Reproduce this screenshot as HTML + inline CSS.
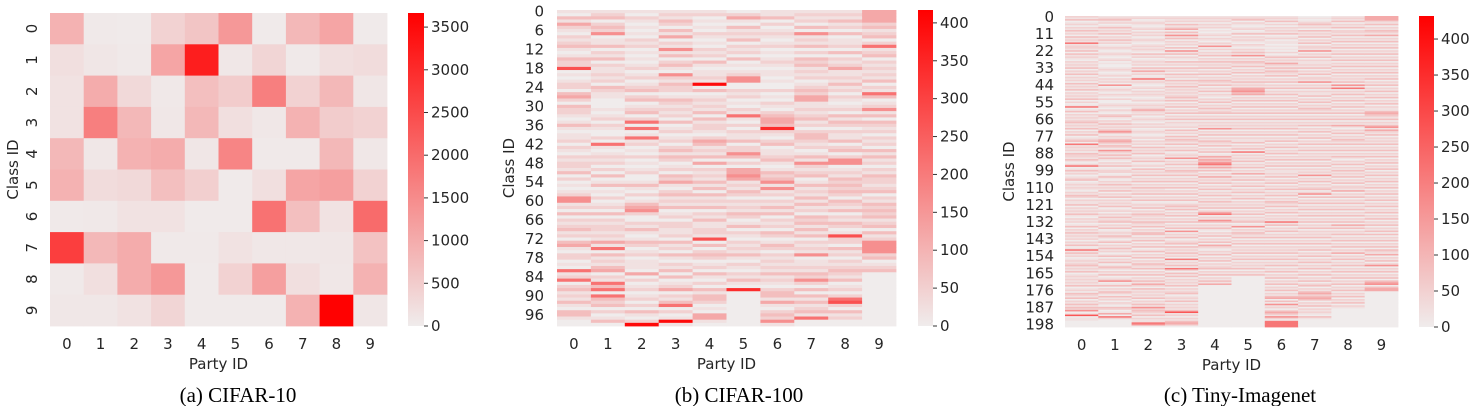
<!DOCTYPE html>
<html><head><meta charset="utf-8"><style>
body{margin:0;background:#fff;width:1482px;height:406px;overflow:hidden}
svg text{font-family:"DejaVu Sans","Liberation Sans",sans-serif;fill:#262626}
.cap{font-family:"Liberation Serif",serif;font-size:21px;fill:#000}
</style></head><body>
<svg id="s" width="1482" height="406" xmlns="http://www.w3.org/2000/svg"></svg>
<script>
// CIFAR-10 counts [class][party]
const cifar10Rows=[
[900,50,30,400,600,1300,30,800,1100,30],
[200,100,50,1100,3200,80,350,50,200,250],
[150,1000,300,60,700,500,1700,400,800,100],
[150,1700,800,80,800,200,80,900,500,400],
[800,80,900,1000,100,1600,50,50,800,80],
[900,250,300,700,450,30,200,1100,1200,400],
[50,60,150,150,30,30,1900,700,150,2000],
[2700,800,1000,50,50,150,80,80,100,650],
[50,200,1000,1300,30,400,1200,200,80,900],
[80,80,150,350,30,30,30,900,3650,100]];
const cifar10Ticks=[0,500,1000,1500,2000,2500,3000,3500];
// sample count for each level digit
const levelValues=[0,20,48,82,120,165,215,275,340,400];
// CIFAR-100 per-party levels, one digit per class
const cifar100Levels=[
"1031421021 2310132270 1012203420 3221013101 1202102122 1302010125 5120302123 1203410220 1061260231 2131033100",
"1230232501 1302130211 2120321100 0101202100 2061012120 2030130102 0120302122 1214160312 1340216360 6323020130",
"1021010102 1201010120 1201230230 1230260601 6120102010 1200131020 1345200213 1013201201 1104020120 1202031029",
"1213203140 2151302310 5213220132 1212030120 1202313201 2032410231 2130120221 1203120310 2130301240 2136020191",
"1201010210 1021203101 1219030121 2130312210 2431213040 2121313031 2130213112 2170302320 1203102031 3320104410",
"0241031213 0212030101 2550021201 0216102021 1302253020 4454121320 2121320130 2102121310 2102131080 0000000000",
"1130201210 1201012101 1010020102 1023443821 0230112310 1323515120 2131302120 3201320212 1213121023 3141023251",
"1212030512 1302032312 1201232441 1212312023 3212013152 1230131213 1312032313 1302121501 1213252030 3131231600",
"1213120301 1203021241 1213120210 1203132021 1302302550 1213232320 3213021320 1722031202 1232130120 2672031200",
"4444231230 2612302121 2130216301 2513032120 2120313120 2132212302 1323231230 3125555230 1230000000 0000000000"];
const cifar100Ticks=[0,50,100,150,200,250,300,350,400];
// Tiny-Imagenet per-party levels
const tinyLevels=[
"2130120213 1203121612 2130312102 1213021302 1203121302 1213020160 1302121231 2130213012 3061212032 2131026013 1201230121 2102132021 1302121310 2120130213 1212021301 6131201212 3121301212 1213012032 1302131325 0170110000",
"1231201312 1302131201 2101210120 1001210120 2120501210 2102001210 2102310213 1213520213 4313205213 1310213012 2013102131 2130213021 2130120213 1230213012 1320130213 1201302130 1320213012 5013021320 3120210320 1406200000",
"1201210120 2120121012 1210312012 1203141201 6121012021 2101201212 4212012102 1201210120 2120312130 1213012031 2130213021 3121302130 1213021321 2132130213 3021302130 1302130213 2130213021 3142031212 1302131523 2130211650",
"1212031240 3151302120 3051302103 1203120312 0312131212 1231302130 2130213021 1203120313 2130213012 1502130213 2130213021 3021302130 1231302130 2130213050 2130123031 2131206021 3062031302 1213021230 1213021213 7120213430",
"1212021201 0120210215 0202130213 1213021302 1321302130 2102130213 1230213021 2150213021 3213021301 4243562413 0214121302 1302130213 1213024602 1530213102 1302130421 0213021302 1230213021 3140000000 0000000000 0000000000",
"1230210120 1302121021 0213150213 2130213021 2131214453 4021302130 2130213021 2130213021 1302130602 1213021302 1402130213 0213021302 1213021302 1230150213 2130213021 2130213021 2130213000 0000000000 0000000000 0000000000",
"1213020212 1301201101 0102013121 4213132130 2130213021 3021302130 2130213021 2130213021 3021302130 2130213021 1213021302 1302130213 2130213021 2161302130 2130213021 2130213021 3021302130 2130213021 3403051202 4315206666",
"0101231203 1213021302 2150213021 1213021302 2150213021 1302130213 2130213021 3021302130 2130213021 2130213021 2150213021 2302503021 3021302130 2130213021 2130213021 3021302130 2130213021 3023021342 3430213021 2103100000",
"1213021302 2130213021 3021302130 2130213021 2130516021 3021302130 2130213021 4102130213 2130213021 3102130213 1213021302 2140213021 3021302130 2130413021 3021302130 2140213021 3021302130 2130213021 3021302100 0000000000",
"4442130213 2140213021 3021302130 2130213021 3021302130 2130213021 1343213021 3514213021 2130213021 3021302130 2130213021 3021302130 2130213021 3021302130 3021302130 3214021302 5021302130 3450344000 0000000000 0000000000"];
const tinyTicks=[0,50,100,150,200,250,300,350,400];
const partyLabels=[0,1,2,3,4,5,6,7,8,9];

const NS="http://www.w3.org/2000/svg";
const svg=document.getElementById('s');
function mk(tag,attrs,parent){const e=document.createElementNS(NS,tag);for(const k in attrs)e.setAttribute(k,attrs[k]);(parent||svg).appendChild(e);return e;}
function color(t){t=Math.max(0,Math.min(1,t));const r=Math.round(240+15*t),g=Math.round(236*(1-t)),b=Math.round(236*(1-t));return `rgb(${r},${g},${b})`;}
function parseLevels(arr){return arr.map(s=>s.replace(/ /g,'').split('').map(d=>levelValues[+d]));}

function heatmap(o){
  const g=mk('g',{});
  
  
  const nR=o.rows, nC=10;
  const cw=(o.x1-o.x0)/nC, rh=(o.y1-o.y0)/nR;
  const yS=v=>o.y0+v*rh, xS=v=>o.x0+v*cw, cS=v=>o.cy1-(v/o.vmax)*(o.cy1-o.cy0);
  for(let c=0;c<nC;c++)for(let r=0;r<nR;r++){
    const v=o.val(r,c);
    const cell=mk('rect',{x:xS(c),y:yS(r),width:cw+0.4,height:rh+0.4,fill:color(v/o.vmax)},g);
    
    
  }
  partyLabels.forEach((l,i)=>{const t=mk('text',{x:xS(i+0.5),y:o.y1+23,'text-anchor':'middle','font-size':15},g);t.textContent=l;
    });
  const xl=mk('text',{x:(o.x0+o.x1)/2,y:o.y1+43,'text-anchor':'middle','font-size':15},g);xl.textContent='Party ID';
  
  o.yTicks.forEach(i=>{let t;
    if(o.rotY){t=mk('text',{transform:`translate(${o.yLabX},${yS(i+0.5)}) rotate(-90)`,'text-anchor':'middle','font-size':15},g);}
    else t=mk('text',{x:o.yLabX,y:yS(i+0.5)+5,'text-anchor':'end','font-size':15},g);
    t.textContent=i;});
  const yl=mk('text',{transform:`translate(${o.yTitleX},${(o.y0+o.y1)/2}) rotate(-90)`,'text-anchor':'middle','font-size':15},g);yl.textContent='Class ID';
  
  const gid='grad-'+o.name;
  const grad=mk('linearGradient',{id:gid,x1:0,y1:1,x2:0,y2:0},mk('defs',{},g));
  mk('stop',{offset:0,'stop-color':color(0)},grad);mk('stop',{offset:1,'stop-color':color(1)},grad);
  const cb=mk('rect',{x:o.cx,y:o.cy0,width:o.cwid,height:o.cy1-o.cy0,fill:`url(#${gid})`},g);
  
  o.ticks.forEach(v=>{const y=cS(v);mk('line',{x1:o.cx+o.cwid,x2:o.cx+o.cwid+4,y1:y,y2:y,stroke:'#333','stroke-width':1},g);
    const t=mk('text',{x:o.cx+o.cwid+7,y:y+5,'font-size':15},g);t.textContent=v;
    });
  const cap=mk('text',{x:o.capX,y:402,'text-anchor':'middle','class':'cap'},g);cap.textContent=o.caption;
  
}
const c100=parseLevels(cifar100Levels), tiny=parseLevels(tinyLevels);
heatmap({name:'cifar10',rows:10,x0:50,x1:387,y0:13,y1:326,val:(r,c)=>cifar10Rows[r][c],vmax:3665,
  yTicks:[0,1,2,3,4,5,6,7,8,9],rotY:true,yLabX:37,yTitleX:18,cx:408,cwid:16,cy0:13,cy1:326,ticks:cifar10Ticks,capX:238,caption:'(a) CIFAR-10'});
heatmap({name:'cifar100',rows:100,x0:557,x1:896,y0:10,y1:326,val:(r,c)=>c100[c][r],vmax:417,
  yTicks:[0,6,12,18,24,30,36,42,48,54,60,66,72,78,84,90,96],rotY:false,yLabX:544,yTitleX:514,cx:918,cwid:15,cy0:10,cy1:326,ticks:cifar100Ticks,capX:739,caption:'(b) CIFAR-100'});
heatmap({name:'tiny-imagenet',rows:200,x0:1065,x1:1398,y0:16,y1:327,val:(r,c)=>tiny[c][r],vmax:432,
  yTicks:[0,11,22,33,44,55,66,77,88,99,110,121,132,143,154,165,176,187,198],rotY:false,yLabX:1054,yTitleX:1014,cx:1419,cwid:15,cy0:16,cy1:327,ticks:tinyTicks,capX:1240,caption:'(c) Tiny-Imagenet'});
</script>
</body></html>
